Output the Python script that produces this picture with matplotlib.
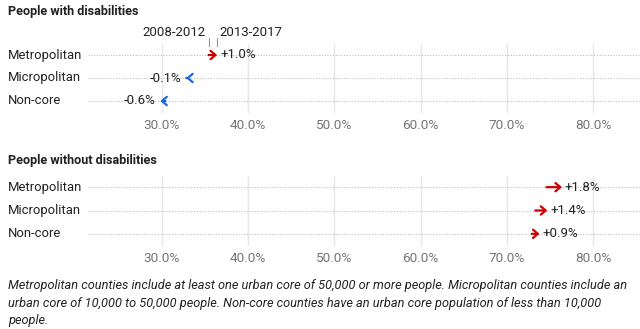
import matplotlib.pyplot as plt
from matplotlib.transforms import blended_transform_factory

plt.rcParams['font.family'] = ['Roboto', 'DejaVu Sans']

# data
regions = ["Metropolitan", "Micropolitan", "Non-core"]
dis_2008 = [35.4, 32.9, 30.4]
dis_2017 = [36.4, 32.8, 29.8]
nodis_2008 = [74.6, 73.3, 72.9]
nodis_2017 = [76.4, 74.7, 73.8]
panel_titles = ["People with disabilities", "People without disabilities"]
period_labels = ["2008-2012", "2013-2017"]
ticks = [30, 40, 50, 60, 70, 80]

W, H = 640, 329
fig = plt.figure(figsize=(W / 100, H / 100), dpi=100)

RED = "#cc0000"
BLUE = "#1a66e6"
xlim = (21.42, 85.45)


def make_ax(top_px, bottom_px):
    ax = fig.add_axes([88 / W, 1 - bottom_px / H, 552 / W, (bottom_px - top_px) / H])
    ax.set_xlim(*xlim)
    ax.set_ylim(2.5, -0.5)
    for s in ax.spines.values():
        s.set_visible(False)
    ax.set_yticks([])
    ax.set_xticks(ticks)
    ax.set_xticklabels(["%.1f%%" % t for t in ticks], color="#757575", fontsize=9.7)
    ax.tick_params(axis="x", length=0, pad=5)
    for t in ticks:
        ax.axvline(t, color="#e6e6e6", lw=1, zorder=0)
    for i in range(3):
        ax.axhline(i, color="#bdbdbd", lw=0.8, ls=(0, (1, 1.5)), zorder=0)
    return ax


def draw_panel(ax, start, end, title, title_px):
    trans = blended_transform_factory(fig.transFigure, ax.transData)
    fig.text(8 / W, 1 - title_px / H, title, fontsize=9.1, fontweight="bold",
             va="center", ha="left", color="#222222")
    for i, (a, b) in enumerate(zip(start, end)):
        ax.text(8 / W, i, regions[i], transform=trans, fontsize=9.4,
                va="center", ha="left", color="#222222")
        col = RED if b > a else BLUE
        ax.annotate("", xy=(b, i), xytext=(a, i),
                    arrowprops=dict(arrowstyle="->,head_length=0.35,head_width=0.3",
                                    color=col, lw=1.6, shrinkA=0, shrinkB=0))
        d = b - a
        lab = ("+%.1f%%" % d) if d > 0 else ("%.1f%%" % d)
        if d > 0:
            ax.text(b + 0.35, i, lab, fontsize=9.5, va="center", ha="left", color="#222222")
        else:
            ax.text(b - 0.55, i, lab, fontsize=9.5, va="center", ha="right", color="#222222")


ax1 = make_ax(43.5, 112.5)
ax2 = make_ax(175.5, 245.5)
draw_panel(ax1, dis_2008, dis_2017, panel_titles[0], 12)
draw_panel(ax2, nodis_2008, nodis_2017, panel_titles[1], 160)

# period header above first row
a0, b0 = dis_2008[0], dis_2017[0]
for x in (a0, b0):
    ax1.plot([x, x], [-0.72, -0.38], color="#999999", lw=0.8, clip_on=False)
ax1.text(a0 - 0.3, -0.98, period_labels[0], fontsize=9.5, ha="right", va="center", color="#222222")
ax1.text(b0 + 0.3, -0.98, period_labels[1], fontsize=9.5, ha="left", va="center", color="#222222")

note = ("Metropolitan counties include at least one urban core of 50,000 or more people. Micropolitan counties include an\n"
        "urban core of 10,000 to 50,000 people. Non-core counties have an urban core population of less than 10,000\n"
        "people.")
fig.text(8 / W, 1 - 279 / H, note, fontsize=9.2, style="italic", va="top", ha="left",
         color="#222222", linespacing=1.45)

fig.savefig("out.png", dpi=100, facecolor="white")
